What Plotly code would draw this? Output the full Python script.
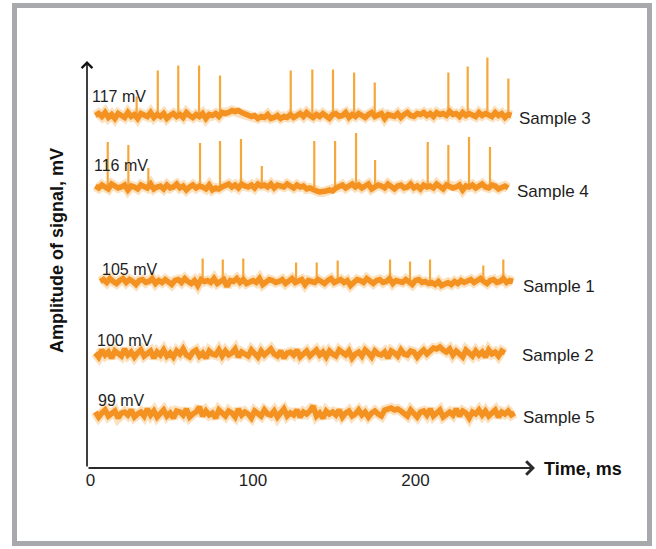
import plotly.graph_objects as go

# ---- recorded traces -------------------------------------------------------
samples = ["Sample 3", "Sample 4", "Sample 1", "Sample 2", "Sample 5"]
levels = ["117 mV", "116 mV", "105 mV", "100 mV", "99 mV"]

# vertical stacking offset of each recording (display units)
offsets = [352.5, 281.0, 186.5, 114.0, 54.0]
# first sample time of each recording, ms, and sampling step, ms
start_ms = [3, 3, 6, 3, 3]
step_ms = 2.0

# baseline fluctuation of each recording around its offset
noise_s3 = [
    0, 2, -1, 3, -2, 1, -3, 2, 0, -2, 3, -1, 1, -3, 2, 0, -1, 3, -2, 1,
    -1, 2, -3, 0, 2, -1, 1, -2, 3, 0, -2, 1, -1, 2, -3, 1, 0, 2, -1, 3,
    2, 3, 5, 4, 5, 3, 2, 1, -1, 0, -3, -1, -2, 1, -3, -2, 0, -3, -1, -2,
    1, -2, 0, 2, -1, 3, 0, -2, 1, -1, 2, 0, -3, 1, 2, -1, 0, 3, -2, 1,
    -1, 2, 0, -2, 1, 3, -1, 0, 2, -3, 1, 0, -1, 2, -2, 1, 3, 0, -1, 2,
    1, 3, 0, 2, -1, 3, 1, 2, 0, 4, 1, 2, -1, 3, 0, 2, 1, -1, 3, 0,
    2, 1, -1, 3, 0, 2, -2, 1, 0,
]
noise_s4 = [
    1, -1, 2, 0, -2, 3, 1, -1, 0, 2, -3, 1, 0, -2, 2, 1, -1, 3, -2, 0,
    1, -2, 2, -1, 0, 3, -1, 1, -3, 0, 2, -1, 1, 0, -2, 2, -3, -1, -2, 0,
    1, 3, 0, 2, -1, 3, 1, 0, 2, -1, 3, 1, 2, 0, 3, -1, 2, 1, 0, 3,
    1, -1, 2, 0, 1, -2, -1, -3, -4, -5, -5, -4, -3, -4, -1, 0, 2, -1, 1, 3,
    0, 2, -1, 1, 3, -2, 0, 2, 1, -1, 3, 0, -2, 1, 2, -1, 0, 3, -1, 1,
    -2, 2, 0, 1, -1, 3, 0, -2, 2, 1, -1, 0, 2, -3, 1, 0, 2, -1, 1, 3,
    0, -1, 2, 1, -2, 0, 1, -1,
]
noise_s1 = [
    0, 2, -1, 3, 0, -2, 1, 3, -1, 2, 0, -3, 1, 2, -1, 0, 3, -2, 1, -1,
    2, 0, -3, 1, 2, -1, 3, 0, -2, 1, -4, 2, 0, 1, -1, 3, -2, 0, 2, -5,
    1, 0, 3, -1, 2, -2, 0, 1, -1, 3, -3, 0, 2, 1, -1, 0, 2, -2, 1, 3,
    -1, 0, 2, -3, 1, 0, -1, 2, 0, -2, 1, 3, -1, 0, 2, -1, 1, -4, 0, 2,
    1, -1, 3, 0, -2, 1, 2, -1, 0, 3, -2, 1, 0, -1, 2, 0, -3, 1, 2, -1,
    0, -2, -1, -3, 0, -4, -2, -1, -3, 0, -2, 1, -1, 0, 2, -1, 1, 3, 0, -2,
    1, 2, -1, 0, 3, -1, 1, 0,
]
noise_s2 = [
    1, -3, 4, -1, 2, -4, 3, 0, -2, 5, -1, 2, -3, 1, 4, -2, 0, 3, -4, 2,
    -1, 4, -2, 1, -3, 3, 0, 5, -1, -3, 2, 4, -2, 1, -4, 3, 0, -1, 4, -2,
    3, -1, 1, 5, -3, 2, 0, -2, 4, 1, -3, 3, -1, 2, 5, 0, -2, 3, -4, 1,
    2, -1, 4, -3, 0, 3, -2, 1, 4, -1, 2, -3, 3, 0, -2, 4, 1, -1, 3, -4,
    0, 2, -2, 4, 1, -3, 3, 0, -1, 2, -4, 3, 1, -2, 4, 0, -1, 3, 2, -3,
    1, 4, 0, 3, 6, 5, 7, 4, 2, 5, -1, 3, 0, -3, 4, 1, -2, 3, -1, 2,
    -3, 4, 0, 2, -2, 3, 1,
]
noise_s5 = [
    2, -3, 1, 4, -2, 0, 3, -4, 1, 2, -1, 4, -3, 0, 2, -2, 5, -1, 3, -3,
    0, 4, -2, 1, -4, 3, 2, -1, 5, -3, 0, 2, 7, -2, 3, -1, 1, -4, 4, 0,
    -2, 3, 1, -3, 5, -1, 2, 0, -4, 3, 1, -2, 4, 0, -1, 3, -3, 2, 5, -2,
    1, -1, 4, -3, 2, 0, 3, 8, -2, 1, -4, 3, 0, 2, -1, 4, -3, 1, 3, -2,
    0, 4, -1, 2, -3, 1, 3, 0, -2, 4, 5, 6, 4, 5, 3, 1, -2, 4, 0, -3,
    2, 3, -1, 5, -2, 1, 4, -3, 0, 2, -1, 5, -2, 3, 1, -4, 2, 0, 4, -1,
    3, -2, 1, 4, -3, 2, 0, 3, -1, 1,
]
noises = [noise_s3, noise_s4, noise_s1, noise_s2, noise_s5]

# spike times (ms) and spike amplitudes above the baseline
spike_t_s3 = [28.4, 41.4, 54.0, 66.8, 79.7, 123.2, 136.5, 149.2, 162.2, 174.9,
              220.2, 232.1, 244.2, 257.1]
spike_h_s3 = [19, 45, 50, 50, 40, 45, 46, 46, 43, 33, 43, 49, 58, 37]
spike_t_s4 = [10.6, 23.3, 35.6, 67.4, 79.7, 92.6, 105.4, 137.7, 150.5, 163.4,
              175.1, 207.5, 220.2, 232.9, 245.8]
spike_h_s4 = [45, 42, 19, 44, 46, 48, 21, 46, 46, 54, 27, 45, 42, 50, 40]
spike_t_s1 = [69.0, 81.4, 94.0, 126.5, 139.2, 152.1, 184.3, 196.6, 208.9,
              241.7, 254.0]
spike_h_s1 = [23, 22, 23, 19, 19, 21, 22, 20, 22, 16, 22]
spike_times = [spike_t_s3, spike_t_s4, spike_t_s1, [], []]
spike_heights = [spike_h_s3, spike_h_s4, spike_h_s1, [], []]

x_ticks = [0, 100, 200]

# ---- label placement ------------------------------------------------------
level_dy = [19.5, 22, 12.5, 14, 14]      # amplitude label height above trace
level_dx = [-5, -3, 0, 0, 1]             # px nudge of amplitude label
name_x = [262.5, 261.2, 264.9, 264.3, 264.9]
name_dy = [-2.5, -4, -4.5, -1, -3]

BAND = "#f39121"
HALO = "rgba(247,168,72,0.35)"
SPIKE = "#f6a73a"
INK = "#1e1e1e"
FONT = "Arial, 'Liberation Sans', sans-serif"

W, H = 656, 549
ML, MR, MT, MB = 87, 121, 40, 81
PW, PH = W - ML - MR, H - MT - MB


def paper_x(px):
    return (px - ML) / PW


def paper_y(py):
    return (H - MB - py) / PH


fig = go.Figure()

for i, name in enumerate(samples):
    base = offsets[i]
    # spikes
    sx, sy = [], []
    for t, h in zip(spike_times[i], spike_heights[i]):
        sx += [t, t, None]
        sy += [base, base + h, None]
    if sx:
        fig.add_trace(go.Scatter(x=sx, y=sy, mode="lines",
                                 line=dict(color=SPIKE, width=2.2),
                                 hoverinfo="skip", showlegend=False))
    # baseline
    n = noises[i]
    tx = [start_ms[i] + step_ms * k for k in range(len(n))]
    ty = [base + v for v in n]
    fig.add_trace(go.Scatter(x=tx, y=ty, mode="lines",
                             line=dict(color=HALO, width=10),
                             hoverinfo="skip", showlegend=False))
    fig.add_trace(go.Scatter(x=tx, y=ty, mode="lines", name=name,
                             line=dict(color=BAND, width=5.5),
                             showlegend=False))
    fig.add_annotation(x=start_ms[i], y=base + level_dy[i], xref="x", yref="y",
                       text=levels[i], showarrow=False, xanchor="left",
                       yanchor="middle", xshift=level_dx[i],
                       font=dict(family=FONT, size=16, color=INK))
    fig.add_annotation(x=name_x[i], y=base + name_dy[i], xref="x", yref="y",
                       text=name, showarrow=False, xanchor="left",
                       yanchor="middle",
                       font=dict(family=FONT, size=17, color=INK))

# axis arrows
fig.add_annotation(x=1, y=0, xref="paper", yref="paper", ax=-PW, ay=0,
                   axref="pixel", ayref="pixel", text="", showarrow=True,
                   arrowhead=4, arrowsize=1.3, arrowwidth=2, arrowcolor="#2b2b2b")
fig.add_annotation(x=0, y=paper_y(61), xref="paper", yref="paper", ax=0,
                   ay=468 - 61, axref="pixel", ayref="pixel", text="",
                   showarrow=True, arrowhead=4, arrowsize=1.3, arrowwidth=1.6,
                   arrowcolor="#111111")

# axis titles
fig.add_annotation(x=paper_x(542), y=paper_y(469), xref="paper", yref="paper",
                   text="<b>Time, ms</b>", showarrow=False, xanchor="left",
                   yanchor="middle", font=dict(family=FONT, size=18, color="#111"))
fig.add_annotation(x=paper_x(57), y=paper_y(251), xref="paper", yref="paper",
                   text="<b>Amplitude of signal, mV</b>", textangle=-90,
                   showarrow=False, xanchor="center", yanchor="middle",
                   font=dict(family=FONT, size=18, color="#111"))

# grey frame around the figure
fig.add_shape(type="rect", xref="paper", yref="paper",
              x0=paper_x(14.5), x1=paper_x(649.5),
              y0=paper_y(543.5), y1=paper_y(5.5),
              line=dict(color="#a7a9ac", width=5), fillcolor="rgba(0,0,0,0)",
              layer="below")

fig.update_xaxes(range=[-2.15, 273.5], tickvals=x_ticks,
                 ticktext=[str(v) for v in x_ticks], showgrid=False,
                 zeroline=False, showline=False, ticks="",
                 tickfont=dict(family=FONT, size=17, color=INK))
fig.update_yaxes(range=[0, PH], showgrid=False, zeroline=False,
                 showline=False, showticklabels=False, ticks="")
fig.update_layout(width=W, height=H,
                  margin=dict(l=ML, r=MR, t=MT, b=MB, pad=0),
                  paper_bgcolor="white", plot_bgcolor="white")

fig.write_html("out.html")
